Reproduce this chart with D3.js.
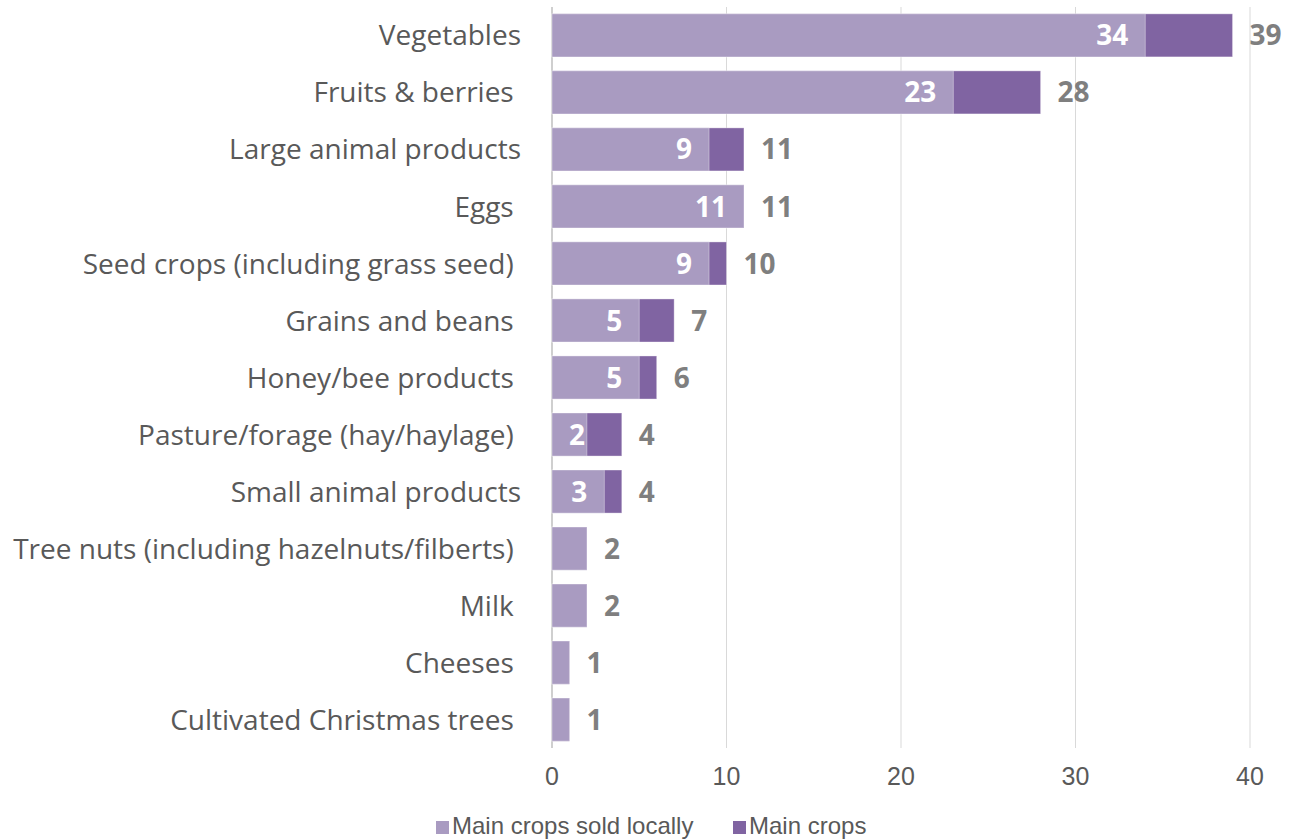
<!DOCTYPE html>
<html><head><meta charset="utf-8">
<script src="https://cdn.jsdelivr.net/npm/d3@7"></script>
<style>
html,body{margin:0;padding:0;background:#fff;}
svg text{white-space:pre;}
</style></head>
<body>
<svg id="chart" width="1294" height="840"></svg>
<script>
const categories = ["Vegetables","Fruits & berries ","Large animal products","Eggs ","Seed crops (including grass seed) ","Grains and beans ","Honey/bee products ","Pasture/forage (hay/haylage) ","Small animal products","Tree nuts (including hazelnuts/filberts) ","Milk ","Cheeses ","Cultivated Christmas trees "];
const soldLocally = [34,23,9,11,9,5,5,2,3,2,2,1,1];
const mainCrops = [39,28,11,11,10,7,6,4,4,2,2,1,1];
const soldLocallyLabels = ["34","23","9","11","9","5","5","2","3",null,null,null,null];
const xTicks = [0,10,20,30,40];
const seriesNames = ["Main crops sold locally","Main crops"];
const colors = ["#A99BC1","#8064A2"];

const sansA = "'Liberation Sans',Arial,sans-serif";
const svg = d3.select("#chart");
const x = d3.scaleLinear().domain([0,40]).range([552,1250]);
const y = d3.scaleBand().domain(categories).range([7,748]).paddingInner(0.245).paddingOuter(0.12);

svg.append("g").selectAll("line").data(xTicks).join("line")
  .attr("x1",d=>x(d)).attr("x2",d=>x(d)).attr("y1",7).attr("y2",748)
  .attr("stroke",d=>d===0?"#BFBFBF":"#D9D9D9").attr("stroke-width",d=>d===0?1.5:1);

svg.append("g").selectAll("rect").data(categories).join("rect")
  .attr("x",x(0)).attr("y",d=>y(d))
  .attr("width",(d,i)=>x(mainCrops[i])-x(0)).attr("height",y.bandwidth())
  .attr("fill",colors[1]).attr("stroke","#fff").attr("stroke-opacity",0.35).attr("stroke-width",1);
svg.append("g").selectAll("rect").data(categories).join("rect")
  .attr("x",x(0)).attr("y",d=>y(d))
  .attr("width",(d,i)=>x(soldLocally[i])-x(0)).attr("height",y.bandwidth())
  .attr("fill",colors[0]).attr("stroke","#fff").attr("stroke-opacity",0.35).attr("stroke-width",1);

// inside-end labels (shifted to inside-base when they do not fit)
svg.append("g").selectAll("text").data(categories).join("text")
  .attr("y",d=>y(d)+y.bandwidth()/2)
  .attr("dy","0.36em")
  .attr("font-family","'Open Sans', sans-serif").attr("font-weight","bold").attr("font-size",28)
  .attr("fill","#fff").text((d,i)=>soldLocallyLabels[i])
  .each(function(d,i){
    const t = d3.select(this);
    if(!soldLocallyLabels[i]) return;
    const w = this.getComputedTextLength();
    const endX = x(soldLocally[i]) - 17;
    if(endX - w < x(0) + 17){ t.attr("text-anchor","start").attr("x", x(0)+17); }
    else { t.attr("text-anchor","end").attr("x", endX); }
  });

svg.append("g").selectAll("text").data(categories).join("text")
  .attr("x",(d,i)=>x(mainCrops[i])+17)
  .attr("y",d=>y(d)+y.bandwidth()/2)
  .attr("dy","0.36em").attr("text-anchor","start")
  .attr("font-family","'Open Sans', sans-serif").attr("font-weight","bold").attr("font-size",28)
  .attr("fill","#7F7F7F").text((d,i)=>mainCrops[i]);

svg.append("g").selectAll("text").data(categories).join("text")
  .attr("x",521).attr("y",d=>y(d)+y.bandwidth()/2)
  .attr("dy","0.36em").attr("text-anchor","end")
  .attr("font-family","'Open Sans', sans-serif").attr("font-size",28)
  .attr("fill","#595959").text(d=>d);

svg.append("g").selectAll("text").data(xTicks).join("text")
  .attr("x",d=>x(d)).attr("y",776).attr("dy","0.36em").attr("text-anchor","middle")
  .attr("font-family",sansA).attr("font-size",25)
  .attr("fill","#595959").text(d=>d);

const leg = svg.append("g");
const legX = [436,733];
seriesNames.forEach((n,i)=>{
  leg.append("rect").attr("x",legX[i]).attr("y",821).attr("width",13).attr("height",13).attr("fill",colors[i]);
  leg.append("text").attr("x",legX[i]+16).attr("y",825).attr("dy","0.36em")
    .attr("font-family",sansA).attr("font-size",24)
    .attr("fill","#595959").text(n);
});
</script>
</body></html>
